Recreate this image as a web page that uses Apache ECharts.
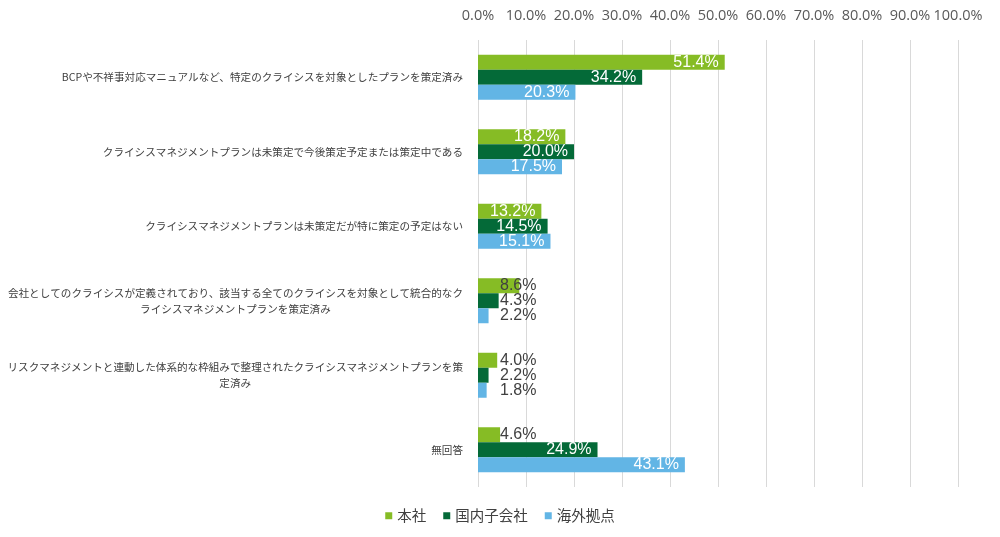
<!DOCTYPE html>
<html>
<head>
<meta charset="utf-8">
<script src="https://cdn.jsdelivr.net/npm/echarts@6/dist/echarts.min.js"></script>
<style>
html,body{margin:0;padding:0;background:#fff;}
#chart{width:1000px;height:537px;}
</style>
</head>
<body>
<div id="chart"></div>
<script>
const categories = [
  'BCPや不祥事対応マニュアルなど、特定のクライシスを対象としたプランを策定済み',
  'クライシスマネジメントプランは未策定で今後策定予定または策定中である',
  'クライシスマネジメントプランは未策定だが特に策定の予定はない',
  '会社としてのクライシスが定義されており、該当する全てのクライシスを対象として統合的なク\nライシスマネジメントプランを策定済み',
  'リスクマネジメントと連動した体系的な枠組みで整理されたクライシスマネジメントプランを策\n定済み',
  '無回答'
];
const seriesNames = ['本社', '国内子会社', '海外拠点'];
const honsha = [51.4, 18.2, 13.2, 8.6, 4.0, 4.6];
const kokunai = [34.2, 20.0, 14.5, 4.3, 2.2, 24.9];
const kaigai = [20.3, 17.5, 15.1, 2.2, 1.8, 43.1];
const xTicks = [0, 10, 20, 30, 40, 50, 60, 70, 80, 90, 100];

const colors = ['#86BC25', '#046A38', '#62B5E5'];
const seriesData = [honsha, kokunai, kaigai];

function labelFor(v) {
  if (v < 10) {
    return { show: true, position: 'insideLeft', distance: 22, color: '#404040',
      fontSize: 16, fontFamily: 'Liberation Sans, Arial, sans-serif',
      formatter: p => p.value.toFixed(1) + '%' };
  }
  return { show: true, position: 'insideRight', distance: 6, color: '#ffffff',
    fontSize: 16, fontFamily: 'Liberation Sans, Arial, sans-serif',
    formatter: p => p.value.toFixed(1) + '%' };
}

const chart = echarts.init(document.getElementById('chart'), null, { renderer: 'canvas' });
chart.setOption({
  animation: false,
  backgroundColor: '#ffffff',
  grid: { left: 478, right: 42, top: 40, bottom: 50, containLabel: false, outerBoundsMode: 'none' },
  legend: {
    data: seriesNames,
    bottom: 9,
    left: 'center',
    itemWidth: 7,
    itemHeight: 7,
    itemGap: 17,
    icon: 'rect',
    textStyle: { color: '#404040', fontSize: 14.5, fontFamily: 'Noto Sans CJK JP' }
  },
  xAxis: {
    type: 'value',
    position: 'top',
    min: xTicks[0],
    max: xTicks[xTicks.length - 1],
    interval: 10,
    axisLine: { show: false },
    axisTick: { show: false },
    splitLine: { show: true, lineStyle: { color: '#D9D9D9', width: 1 } },
    axisLabel: {
      color: '#595959', fontSize: 14.5, fontFamily: 'Open Sans', margin: 17,
      formatter: v => v.toFixed(1) + '%'
    }
  },
  yAxis: {
    type: 'category',
    data: categories,
    inverse: true,
    axisLine: { show: false },
    axisTick: { show: false },
    axisLabel: {
      margin: 15,
      color: '#404040',
      fontSize: 10.6,
      lineHeight: 16,
      fontFamily: 'Noto Sans CJK JP',
      formatter: v => v.split('\n').map(l => '{c|' + l + '}').join('\n'),
      rich: { c: { align: 'center', fontSize: 10.6, lineHeight: 16, color: '#404040', fontFamily: 'Noto Sans CJK JP' } }
    }
  },
  series: seriesNames.map((name, i) => ({
    name: name,
    type: 'bar',
    barWidth: 15,
    barGap: '0%',
    itemStyle: { color: colors[i] },
    data: seriesData[i].map(v => ({ value: v, label: labelFor(v) }))
  }))
});
</script>
</body>
</html>
